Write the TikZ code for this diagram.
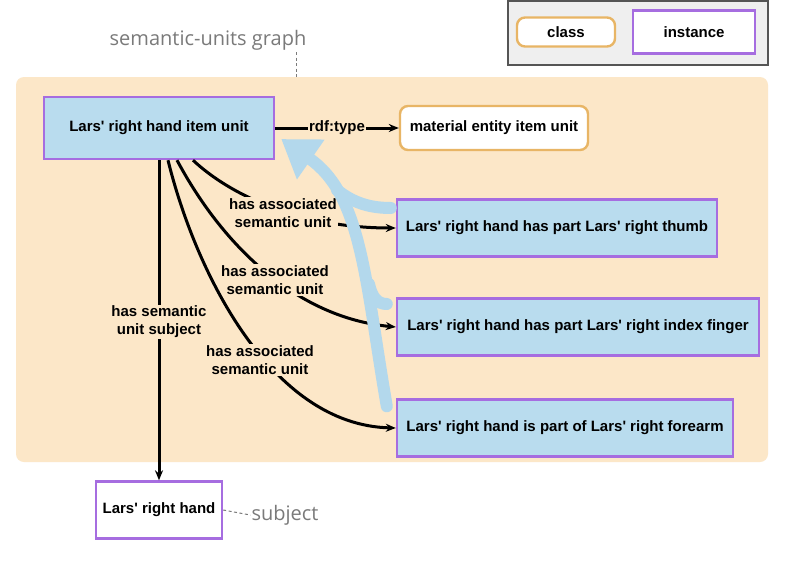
\documentclass[tikz,border=0pt]{standalone}
\usepackage{fontspec}
\setmainfont{Liberation Sans}[Ligatures=TeXOff]
\newfontfamily\grayfont{Open Sans}
\usetikzlibrary{arrows.meta,calc}
\definecolor{peach}{HTML}{FCE7C8}
\definecolor{lblue}{HTML}{B9DCEE}
\definecolor{purp}{HTML}{A66DE0}
\definecolor{orng}{HTML}{E8B565}
\definecolor{legfill}{HTML}{EFEFEF}
\definecolor{legdraw}{HTML}{555555}
\definecolor{txtgray}{HTML}{7A7A7A}
\definecolor{flowblue}{HTML}{B3D8EC}
\tikzset{
  inst/.style={draw=purp, line width=2.4pt, fill=lblue, font=\fontsize{15}{18}\selectfont\bfseries, inner sep=2pt, align=center},
  instw/.style={inst, fill=white},
  cls/.style={draw=orng, line width=2.4pt, fill=white, rounded corners=8pt, font=\fontsize{15}{18}\selectfont\bfseries, inner sep=2pt, align=center},
  rel/.style={line width=3pt, -{Stealth[length=10pt,width=8pt]}},
  rellabel/.style={fill=peach, inner sep=1.5pt, font=\fontsize{15}{18}\selectfont\bfseries, align=center},
  graylabel/.style={text=txtgray, font=\grayfont\fontsize{20}{24}\selectfont, inner sep=1pt},
  graydash/.style={draw=txtgray, line width=1pt, dash pattern=on 3pt off 2.5pt},
  flow/.style={draw=flowblue, line width=12pt, line cap=round},
}
\begin{document}
\begin{tikzpicture}[x=1pt,y=-1pt]
\useasboundingbox (0,0) rectangle (800,581);
\fill[white] (0,0) rectangle (800,581);
% legend
\draw[fill=legfill, draw=legdraw, line width=1.5pt] (508,1) rectangle (768,65);
\node[cls, minimum width=98pt, minimum height=29pt] (lcls) at (566,32) {class};
\node[instw, minimum width=122pt, minimum height=43pt] (linst) at (694,32) {instance};
% background
\fill[peach, rounded corners=8pt] (16,77) rectangle (768,462);
% title
\node[graylabel] (title) at (208,40) {semantic-units graph};
\coordinate (tdash) at (296,77);
\draw[graydash] (296,52) -- (tdash);
% nodes
\node[inst, minimum width=230pt, minimum height=62pt] (main) at (159,128) {Lars' right hand item unit};
\node[cls, minimum width=188pt, minimum height=44pt] (mat) at (494,128) {material entity item unit};
\node[inst, minimum width=320pt, minimum height=57pt] (thumb) at (557,228) {Lars' right hand has part Lars' right thumb};
\node[inst, minimum width=362pt, minimum height=57pt] (index) at (578,327) {Lars' right hand has part Lars' right index finger};
\node[inst, minimum width=336pt, minimum height=57pt] (fore) at (565,428) {Lars' right hand is part of Lars' right forearm};
\node[instw, minimum width=126pt, minimum height=57pt] (subj) at (159,510) {Lars' right hand};
\node[graylabel] (subjt) at (285,515) {subject};
\draw[graydash] (subj.east) -- (subjt.west);
% start points
\coordinate (s1) at ([xshift=34pt]main.south);
\coordinate (s2) at ([xshift=18pt]main.south);
\coordinate (s3) at ([xshift=9pt]main.south);
% relations
\draw[rel] (main.east) -- node[rellabel] (lrdf) {rdf:type} (mat.west);
\draw[rel] (main.south) -- (subj.north);
\node[rellabel] (lsubj) at (159,322) {has semantic\\unit subject};
\draw[rel] (s1) .. controls (230,195) and (300,228) .. (thumb.west);
\node[rellabel] (l1) at (283,213) {has associated\\semantic unit};
\draw[rel] (s2) .. controls (225,250) and (300,318) .. (index.west);
\node[rellabel] (l2) at (275,280) {has associated\\semantic unit};
\draw[rel] (s3) .. controls (195,270) and (270,425) .. (fore.west);
\node[rellabel] (l3) at (260,360) {has associated\\semantic unit};
% flow arrow
\coordinate (fstart) at ([xshift=-9pt,yshift=-8pt]fore.north west);
\coordinate (ftip) at ([xshift=6pt,yshift=-11pt]main.east);
\coordinate (bthumb) at ([xshift=-5pt,yshift=20pt]thumb.west);
\coordinate (bindex) at ([xshift=-9pt,yshift=23pt]index.west);
\draw[flow] (bthumb) .. controls (365,208) and (350,200) .. (337,190);
\draw[flow] (bindex) .. controls (378,304) and (372,298) .. (369,284);
\draw[flow, -{Triangle[length=36pt,width=46pt]}] (fstart) .. controls (365,280) and (362,195) .. (ftip);
\end{tikzpicture}
\end{document}
